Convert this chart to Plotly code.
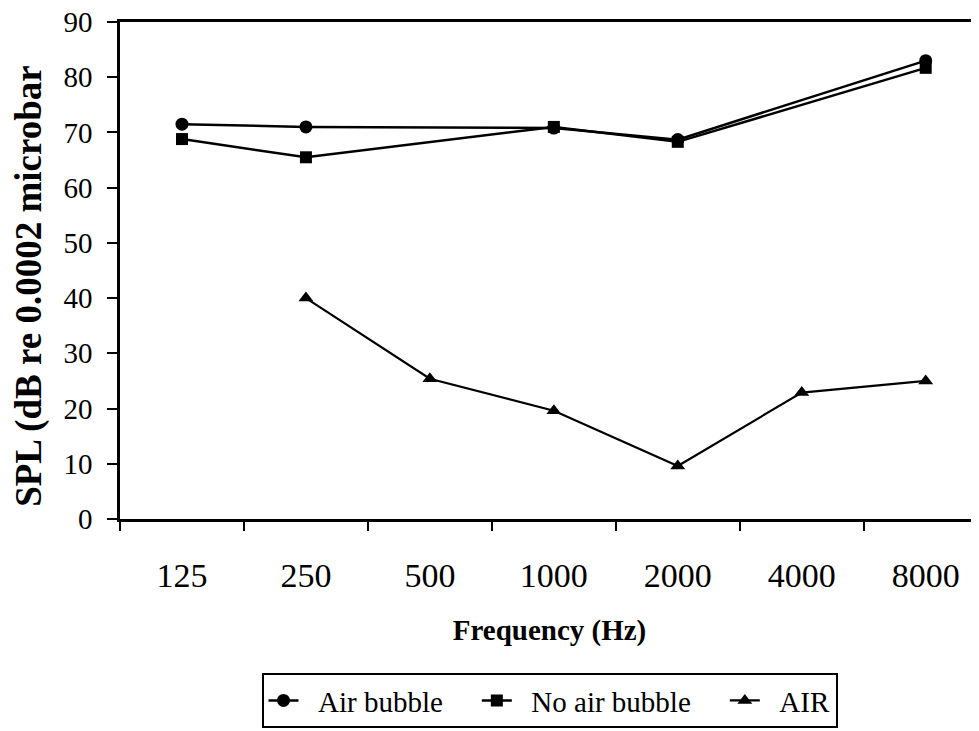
import plotly.graph_objects as go

categories = ["125", "250", "500", "1000", "2000", "4000", "8000"]
air_bubble = [71.5, 71.0, None, 70.8, 68.7, None, 83.0]
no_air_bubble = [68.8, 65.5, None, 71.0, 68.3, None, 81.7]
air = [None, 40.0, 25.4, 19.6, 9.6, 22.9, 25.0]
series_names = ["Air bubble", "No air bubble", "AIR"]

y_ticks = [0, 10, 20, 30, 40, 50, 60, 70, 80, 90]

FONT = "Liberation Serif"
NB = "\u00a0"

fig = go.Figure()
fig.add_trace(go.Scatter(x=categories, y=air_bubble, name=NB * 2 + series_names[0] + NB * 4,
                         mode="lines+markers",
                         connectgaps=True, line=dict(color="black", width=2.5),
                         marker=dict(symbol="circle", size=13, color="black")))
fig.add_trace(go.Scatter(x=categories, y=no_air_bubble, name=NB * 2 + series_names[1] + NB * 4,
                         mode="lines+markers",
                         connectgaps=True, line=dict(color="black", width=2.5),
                         marker=dict(symbol="square", size=12, color="black")))
fig.add_trace(go.Scatter(x=categories, y=air, name=NB * 2 + series_names[2],
                         mode="lines+markers",
                         connectgaps=True, line=dict(color="black", width=2.2),
                         marker=dict(symbol="triangle-up", size=13, color="black")))

fig.update_layout(
    width=979, height=731,
    margin=dict(l=112, r=8, t=14, b=220, autoexpand=False),
    paper_bgcolor="white", plot_bgcolor="white",
    font=dict(family=FONT, color="black", size=26),
    showlegend=True,
    legend=dict(orientation="h", x=0.5, xanchor="center", y=-0.31, yanchor="top",
                bordercolor="black", borderwidth=2, font=dict(size=29, family=FONT),
                itemwidth=30, tracegroupgap=0),
    xaxis=dict(
        type="category", range=[-0.5, 6.43], automargin=False,
        showline=True, linecolor="black", linewidth=2.5, mirror=True,
        ticks="outside", tickson="boundaries", ticklen=9, tickwidth=2, tickcolor="black",
        showgrid=False, zeroline=False,
        ticklabelstandoff=24, ticklabeloverflow="allow",
        tickfont=dict(size=34, family=FONT),
        title=dict(text="<b>Frequency (Hz)</b>", font=dict(size=29, family=FONT), standoff=28),
    ),
    yaxis=dict(
        range=[0, 90], tickvals=y_ticks, automargin=False,
        showline=True, linecolor="black", linewidth=2.5,
        ticks="outside", ticklen=10, tickwidth=2, tickcolor="black",
        showgrid=False, zeroline=False,
        ticklabelstandoff=9, ticklabeloverflow="allow",
        tickfont=dict(size=29, family=FONT),
    ),
    annotations=[dict(
        text="<b>SPL (dB re 0.0002 microbar</b>", textangle=-90,
        xref="paper", yref="paper", x=-0.106, y=0.469,
        xanchor="center", yanchor="middle", showarrow=False,
        font=dict(size=37, family=FONT, color="black"),
    )],
)

fig.write_html("out.html")
